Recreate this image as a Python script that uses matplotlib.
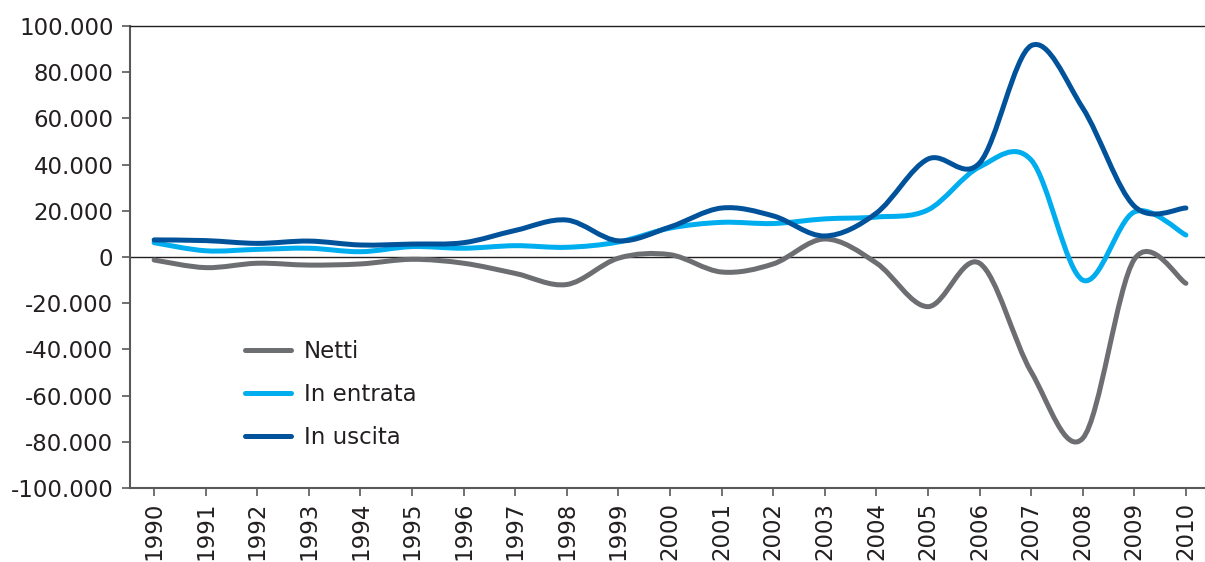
import numpy as np
import matplotlib
matplotlib.use("Agg")
import matplotlib.pyplot as plt
from matplotlib.path import Path
from matplotlib.patches import PathPatch
from matplotlib.lines import Line2D

plt.rcParams['font.family'] = ['DejaVu Sans']

years = list(range(1990, 2011))

# flussi
netti = [-1300, -4600, -2700, -3500, -3000, -1000, -2700, -7100, -11900, -500,
         1000, -6500, -3000, 7800, -2600, -21500, -2700, -49700, -78500, -1000, -11400]
in_entrata = [6200, 2700, 3300, 3800, 2300, 4500, 3800, 4900, 4200, 6500,
              12500, 15000, 14500, 16500, 17300, 20400, 39000, 42000, -10000, 19500, 9500]
in_uscita = [7400, 7100, 5900, 6900, 5200, 5600, 6200, 11500, 16000, 7000,
             13000, 21200, 17800, 9100, 19000, 42400, 40700, 91500, 64500, 22000, 21200]

series = [("Netti", netti, "#6d6e71"),
          ("In entrata", in_entrata, "#00aeef"),
          ("In uscita", in_uscita, "#00529b")]

yticks = list(range(-100000, 100001, 20000))


def smooth_path(x, y):
    # bezier a tratti tipo "linea smussata" di Excel
    pts = np.column_stack([x, y]).astype(float)
    n = len(pts)
    verts = [pts[0]]
    codes = [Path.MOVETO]
    for i in range(n - 1):
        p0 = pts[i - 1] if i > 0 else pts[i]
        p1 = pts[i]
        p2 = pts[i + 1]
        p3 = pts[i + 2] if i + 2 < n else pts[i + 1]
        c1 = p1 + (p2 - p0) / 6.0
        c2 = p2 - (p3 - p1) / 6.0
        verts += [c1, c2, p2]
        codes += [Path.CURVE4] * 3
    return Path(verts, codes)


fig = plt.figure(figsize=(12.05, 5.62), dpi=100)
ax = fig.add_axes([0.108, 0.1317, 0.892, 0.822])

for name, vals, col in series:
    patch = PathPatch(smooth_path(years, vals), facecolor='none', edgecolor=col,
                      lw=3.6, capstyle='round', joinstyle='round', zorder=3)
    ax.add_patch(patch)

ax.axhline(0, color='#231f20', lw=1.0, zorder=2)

ax.set_xlim(1989.535, 2010.37)
ax.set_ylim(-100000, 100000)
ax.set_xticks(years)
ax.set_xticklabels([str(y) for y in years], rotation=90)
ax.set_yticks(yticks)
ax.set_yticklabels(['{:,}'.format(v).replace(',', '.') for v in yticks])

ax.spines['right'].set_visible(False)
ax.spines['top'].set_color('#231f20')
ax.spines['top'].set_linewidth(1.0)
for s in ['left', 'bottom']:
    ax.spines[s].set_color('#58595b')
    ax.spines[s].set_linewidth(1.5)

ax.tick_params(axis='both', colors='#58595b', labelcolor='#231f20',
               labelsize=16.5, length=6, width=1.2)
ax.tick_params(axis='y', pad=6)
ax.tick_params(axis='x', pad=4)

handles = [Line2D([], [], color=c, lw=3.6, solid_capstyle='round') for _, _, c in series]
leg = ax.legend(handles, [n for n, _, _ in series], loc='upper left',
                bbox_to_anchor=(0.088, 0.365), frameon=False, fontsize=16.5,
                handlelength=2.0, handletextpad=0.55, labelspacing=0.88)
for t in leg.get_texts():
    t.set_color('#231f20')

fig.savefig('out.png', dpi=100)
